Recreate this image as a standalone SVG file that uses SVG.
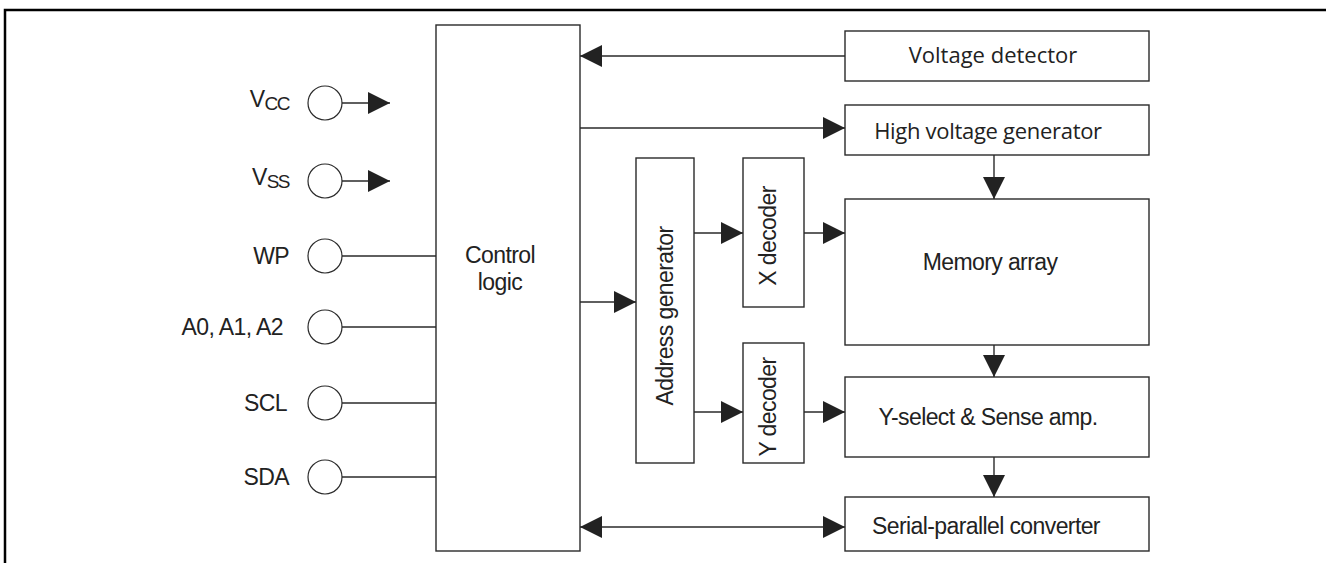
<svg xmlns="http://www.w3.org/2000/svg" width="1326" height="563" viewBox="0 0 1326 563">
<style>
.box{fill:#fff;stroke:#2a2a2a;stroke-width:1.4}
.pin{fill:#fff;stroke:#2a2a2a;stroke-width:1.2}
.ln{fill:none;stroke:#2a2a2a;stroke-width:1.4}
.t{font-family:"Liberation Sans",Arial,sans-serif;font-size:23px;fill:#222;letter-spacing:-0.6px}
.h{font-family:"Open Sans","Noto Sans",sans-serif;font-size:22px;fill:#222}
.c{text-anchor:middle}
.e{text-anchor:end}
</style>
<defs>
<marker id="ah" markerUnits="userSpaceOnUse" markerWidth="22" markerHeight="22" refX="22" refY="11" orient="auto-start-reverse" viewBox="0 0 22 22">
<path d="M0,0 L22,11 L0,22 z" fill="#222"/>
</marker>
</defs>
<rect width="1326" height="563" fill="#fff"/>
<g id="frame">
<path d="M5,563 V10 H1326" fill="none" stroke="#000" stroke-width="2.5"/>
</g>
<g id="connectors">
<line class="ln" x1="845" y1="56" x2="580" y2="56" marker-end="url(#ah)"/>
<line class="ln" x1="580" y1="128" x2="845" y2="128" marker-end="url(#ah)"/>
<line class="ln" x1="994" y1="155" x2="994" y2="199" marker-end="url(#ah)"/>
<line class="ln" x1="580" y1="302" x2="636" y2="302" marker-end="url(#ah)"/>
<line class="ln" x1="694" y1="233" x2="743" y2="233" marker-end="url(#ah)"/>
<line class="ln" x1="804" y1="233" x2="845" y2="233" marker-end="url(#ah)"/>
<line class="ln" x1="694" y1="412" x2="743" y2="412" marker-end="url(#ah)"/>
<line class="ln" x1="804" y1="412" x2="845" y2="412" marker-end="url(#ah)"/>
<line class="ln" x1="994" y1="345" x2="994" y2="377" marker-end="url(#ah)"/>
<line class="ln" x1="994" y1="457" x2="994" y2="497" marker-end="url(#ah)"/>
<line class="ln" x1="580" y1="527" x2="845" y2="527" marker-start="url(#ah)" marker-end="url(#ah)"/>
<line class="ln" x1="342" y1="103" x2="390" y2="103" marker-end="url(#ah)"/>
<line class="ln" x1="342" y1="181" x2="390" y2="181" marker-end="url(#ah)"/>
<line class="ln" x1="342" y1="256" x2="436" y2="256"/>
<line class="ln" x1="342" y1="327" x2="436" y2="327"/>
<line class="ln" x1="342" y1="403" x2="436" y2="403"/>
<line class="ln" x1="342" y1="477" x2="436" y2="477"/>
</g>
<g id="pin-vcc">
<circle class="pin" cx="325" cy="103" r="17"/>
<text class="t e" x="289" y="107">V<tspan font-size="19" dy="3" letter-spacing="-1.5">CC</tspan></text>
</g>
<g id="pin-vss">
<circle class="pin" cx="325" cy="181" r="17"/>
<text class="t e" x="289" y="185">V<tspan font-size="19" dy="3" letter-spacing="-1.5">SS</tspan></text>
</g>
<g id="pin-wp">
<circle class="pin" cx="325" cy="256" r="17"/>
<text class="t e" x="289" y="264" letter-spacing="-1.5">WP</text>
</g>
<g id="pin-a">
<circle class="pin" cx="325" cy="327" r="17"/>
<text class="t e" x="283" y="335">A0, A1, A2</text>
</g>
<g id="pin-scl">
<circle class="pin" cx="325" cy="403" r="17"/>
<text class="t e" x="287" y="411" letter-spacing="-1.2">SCL</text>
</g>
<g id="pin-sda">
<circle class="pin" cx="325" cy="477" r="17"/>
<text class="t e" x="289" y="485" letter-spacing="-1.2">SDA</text>
</g>
<g id="control-logic">
<rect class="box" x="436" y="25" width="144" height="526"/>
<text class="t c" x="500" y="263">Control</text>
<text class="t c" x="500" y="290">logic</text>
</g>
<g id="voltage-detector">
<rect class="box" x="845" y="31" width="304" height="50"/>
<text class="h c" x="993" y="63">Voltage detector</text>
</g>
<g id="high-voltage-generator">
<rect class="box" x="845" y="105" width="304" height="50"/>
<text class="h c" x="988" y="139" letter-spacing="-0.3">High voltage generator</text>
</g>
<g id="address-generator">
<rect class="box" x="636" y="158" width="58" height="305"/>
<text class="t c" transform="translate(673,316) rotate(-90)" x="0" y="0">Address generator</text>
</g>
<g id="x-decoder">
<rect class="box" x="743" y="158" width="61" height="149"/>
<text class="t c" transform="translate(776,236) rotate(-90)" x="0" y="0">X decoder</text>
</g>
<g id="y-decoder">
<rect class="box" x="743" y="343" width="61" height="120"/>
<text class="t c" transform="translate(776,407) rotate(-90)" x="0" y="0">Y decoder</text>
</g>
<g id="memory-array">
<rect class="box" x="845" y="199" width="304" height="146"/>
<text class="t c" x="990" y="270">Memory array</text>
</g>
<g id="y-select">
<rect class="box" x="845" y="377" width="304" height="80"/>
<text class="t c" x="988" y="425">Y-select &amp; Sense amp.</text>
</g>
<g id="serial-parallel">
<rect class="box" x="845" y="497" width="304" height="54"/>
<text class="t c" x="986" y="534">Serial-parallel converter</text>
</g>
</svg>
